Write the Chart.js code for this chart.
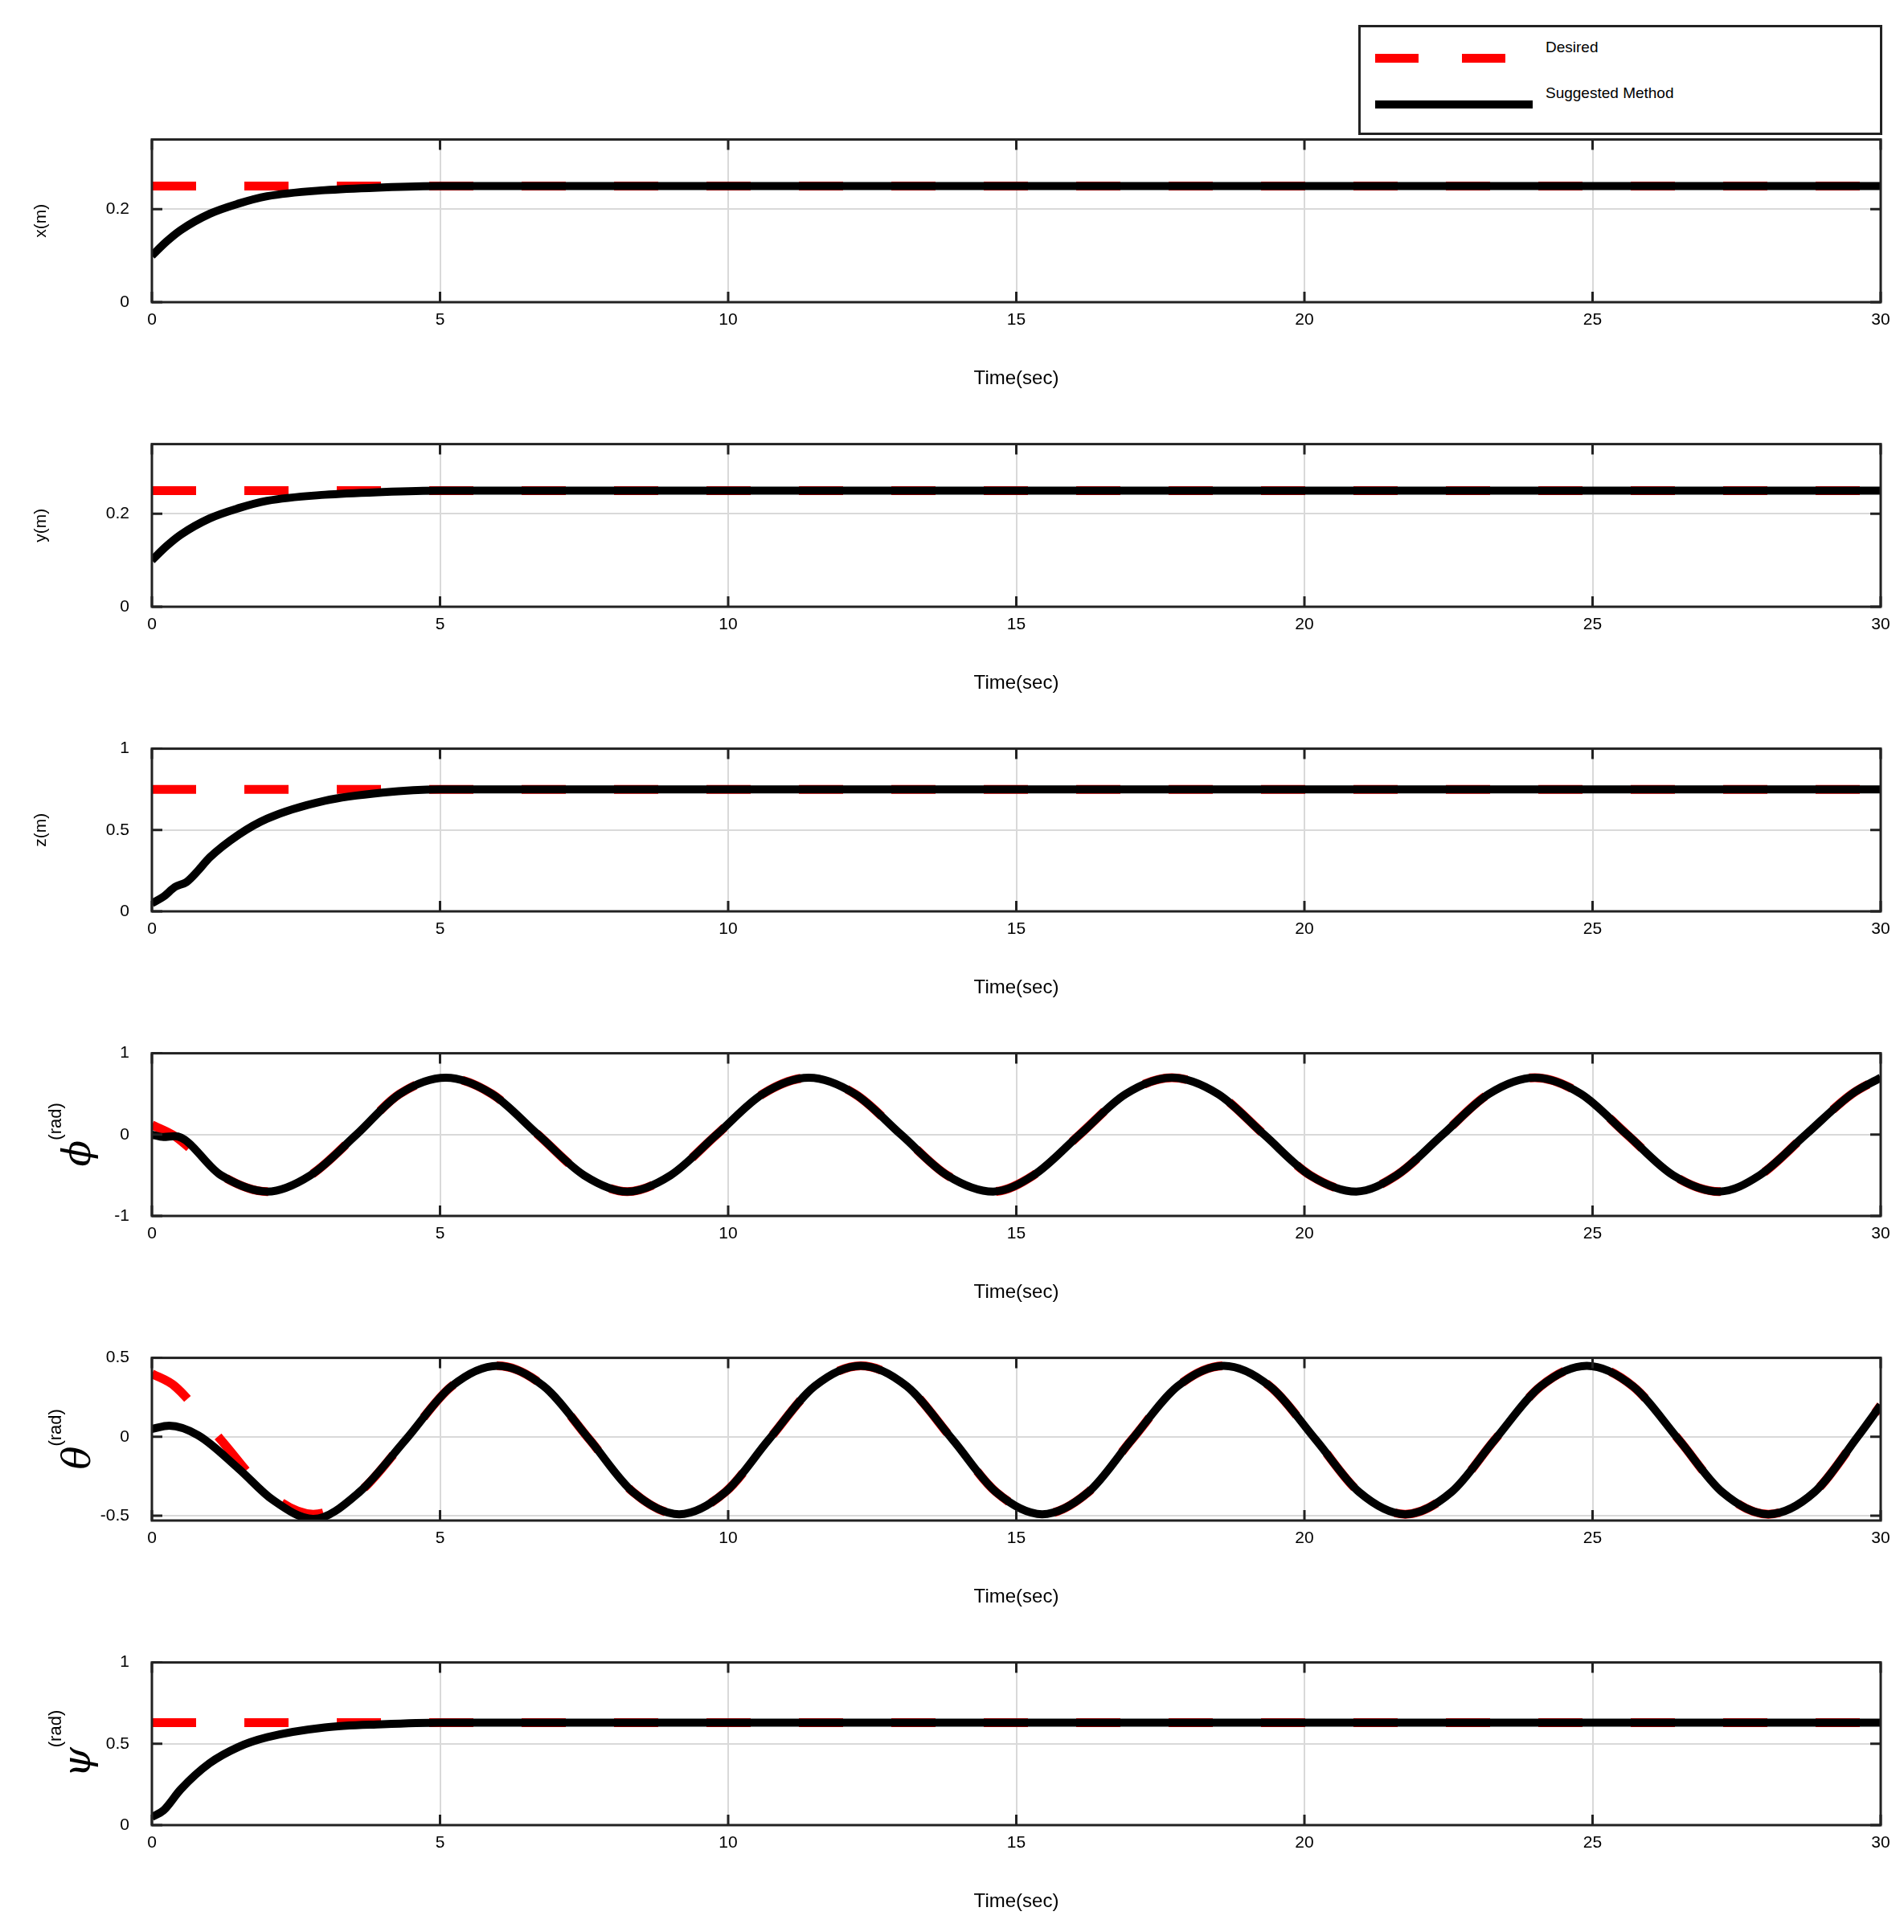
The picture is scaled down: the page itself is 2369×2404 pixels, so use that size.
<!DOCTYPE html>
<html>
<head>
<meta charset="utf-8">
<script src="https://cdn.jsdelivr.net/npm/chart.js@4.4.1/dist/chart.umd.min.js"></script>
<style>
  body { margin: 0; background: #fff; width: 2369px; height: 2404px; position: relative; overflow: hidden; font-family: "Liberation Sans", Arial, sans-serif; }
  .panel { position: absolute; left: 0; width: 2369px; height: 365px; }
  #legend { position: absolute; left: 1690px; top: 31px; width: 646px; height: 131px; border: 3px solid #222; background: #fff; }
  .leg-line { position: absolute; left: 18px; }
  .leg-text { position: absolute; left: 230px; font-size: 19px; color: #000; }
</style>
</head>
<body>
<div id="legend">
  <div class="leg-line" style="top:33px;width:162px;height:11px;background:linear-gradient(to right,#ff0000 0 54px,transparent 54px 108px,#ff0000 108px 162px);"></div>
  <div class="leg-text" style="top:14px;">Desired</div>
  <div class="leg-line" style="top:91px;width:196px;border-top:10px solid #000;"></div>
  <div class="leg-text" style="top:71px;">Suggested Method</div>
</div>
<div id="panels"></div>
<script>
const xTicks = [0, 5, 10, 15, 20, 25, 30];

// x(m)
const xDesT = [0, 30];
const xDesV = [0.25, 0.25];
const xActT = [0, 0.25, 0.5, 1, 1.5, 2, 3, 4, 5, 30];
const xActV = [0.1, 0.13, 0.155, 0.19, 0.212, 0.228, 0.241, 0.247, 0.25, 0.25];

// y(m)
const yDesT = [0, 30];
const yDesV = [0.25, 0.25];
const yActT = [0, 0.25, 0.5, 1, 1.5, 2, 3, 4, 5, 30];
const yActV = [0.1, 0.13, 0.155, 0.19, 0.212, 0.228, 0.241, 0.247, 0.25, 0.25];

// z(m)
const zDesT = [0, 30];
const zDesV = [0.75, 0.75];
const zActT = [0, 0.2, 0.4, 0.6, 0.8, 1, 1.5, 2, 3, 4, 5, 30];
const zActV = [0.05, 0.09, 0.15, 0.18, 0.25, 0.33, 0.47, 0.57, 0.68, 0.73, 0.75, 0.75];

// phi(rad)
const phiT = [0.4, 1.2, 2.0, 2.75, 3.55, 4.3, 5.1, 5.9, 6.7, 7.5, 8.25, 9.0, 9.8, 10.6, 11.4, 12.2, 13.0, 13.8, 14.6, 15.3, 16.1, 16.9, 17.7, 18.5, 19.3, 20.1, 20.9, 21.6, 22.4, 23.2, 24.0, 24.8, 25.6, 26.4, 27.2, 27.9, 28.7, 29.5, 30];
const phiV = [-0.02, -0.5, -0.7, -0.5, 0, 0.5, 0.7, 0.5, 0, -0.5, -0.7, -0.5, 0, 0.5, 0.7, 0.5, 0, -0.5, -0.7, -0.5, 0, 0.5, 0.7, 0.5, 0, -0.5, -0.7, -0.5, 0, 0.5, 0.7, 0.5, 0, -0.5, -0.7, -0.5, 0, 0.5, 0.7];
const phiDesT = [0].concat(phiT);
const phiDesV = [0.12].concat(phiV);
const phiActT = [0, 0.2].concat(phiT);
const phiActV = [0, -0.03].concat(phiV);

// theta(rad)
const thTailT = [3.6, 4.4, 5.2, 6.0, 6.8, 7.6, 8.35, 9.15, 9.95, 10.7, 11.5, 12.3, 13.1, 13.9, 14.65, 15.45, 16.25, 17.0, 17.8, 18.6, 19.4, 20.2, 20.95, 21.75, 22.55, 23.3, 24.1, 24.9, 25.7, 26.5, 27.25, 28.05, 28.85, 29.6, 30];
const thTailV = [-0.35, -0.02, 0.32, 0.45, 0.32, -0.02, -0.35, -0.49, -0.35, -0.02, 0.32, 0.45, 0.32, -0.02, -0.35, -0.49, -0.35, -0.02, 0.32, 0.45, 0.32, -0.02, -0.35, -0.49, -0.35, -0.02, 0.32, 0.45, 0.32, -0.02, -0.35, -0.49, -0.35, 0.0, 0.2];
const thDesT = [0, 0.4, 1.2, 2.0, 2.8].concat(thTailT);
const thDesV = [0.4, 0.32, -0.02, -0.35, -0.49].concat(thTailV);
const thActT = [0, 0.3, 0.8, 1.5, 2.1, 2.8].concat(thTailT);
const thActV = [0.05, 0.07, 0.01, -0.2, -0.4, -0.52].concat(thTailV);

// psi(rad)
const psiDesT = [0, 30];
const psiDesV = [0.63, 0.63];
const psiActT = [0, 0.2, 0.5, 1, 1.5, 2, 3, 4, 5, 30];
const psiActV = [0.05, 0.09, 0.22, 0.38, 0.48, 0.54, 0.6, 0.62, 0.63, 0.63];

const panels = [
  { label: "x(m)", greek: null, min: 0, max: 0.35, yTicks: [0, 0.2], des: [xDesT, xDesV], act: [xActT, xActV] },
  { label: "y(m)", greek: null, min: 0, max: 0.35, yTicks: [0, 0.2], des: [yDesT, yDesV], act: [yActT, yActV] },
  { label: "z(m)", greek: null, min: 0, max: 1, yTicks: [0, 0.5, 1], des: [zDesT, zDesV], act: [zActT, zActV] },
  { label: "(rad)", greek: "\u03D5", min: -1, max: 1, yTicks: [-1, 0, 1], des: [phiDesT, phiDesV], act: [phiActT, phiActV] },
  { label: "(rad)", greek: "\u03B8", min: -0.53, max: 0.5, yTicks: [-0.5, 0, 0.5], des: [thDesT, thDesV], act: [thActT, thActV] },
  { label: "(rad)", greek: "\u03C8", min: 0, max: 1, yTicks: [0, 0.5, 1], des: [psiDesT, psiDesV], act: [psiActT, psiActV] },
];

const toPoints = (t, v) => t.map((x, i) => ({ x, y: v[i] }));

const framePlugin = {
  id: "frame",
  afterDraw(chart, args, opts) {
    const { ctx, chartArea: a, scales } = chart;
    ctx.save();
    ctx.strokeStyle = "#222";
    ctx.lineWidth = 3;
    const len = 13;
    ctx.beginPath();
    xTicks.forEach((t) => {
      const px = scales.x.getPixelForValue(t);
      ctx.moveTo(px, a.top); ctx.lineTo(px, a.top + len);
      ctx.moveTo(px, a.bottom); ctx.lineTo(px, a.bottom - len);
    });
    opts.yTicks.forEach((t) => {
      const py = scales.y.getPixelForValue(t);
      ctx.moveTo(a.left, py); ctx.lineTo(a.left + len, py);
      ctx.moveTo(a.right, py); ctx.lineTo(a.right - len, py);
    });
    ctx.stroke();
    ctx.strokeRect(a.left, a.top, a.right - a.left, a.bottom - a.top);
    // y label
    const cy = (a.top + a.bottom) / 2;
    ctx.fillStyle = "#000";
    ctx.translate(opts.greek ? 112 : 57, cy);
    ctx.rotate(-Math.PI / 2);
    ctx.textBaseline = "alphabetic";
    if (opts.greek) {
      ctx.font = "italic 48px 'DejaVu Serif', serif";
      const gw = ctx.measureText(opts.greek).width;
      ctx.font = "22px 'Liberation Sans', Arial, sans-serif";
      const lw = ctx.measureText(opts.label).width;
      const start = -(gw + lw) / 2;
      ctx.font = "italic 48px 'DejaVu Serif', serif";
      ctx.textAlign = "left";
      ctx.fillText(opts.greek, start, 0);
      ctx.font = "22px 'Liberation Sans', Arial, sans-serif";
      ctx.fillText(opts.label, start + gw, -36);
    } else {
      ctx.textAlign = "center";
      ctx.font = "21px 'Liberation Sans', Arial, sans-serif";
      ctx.fillText(opts.label, 0, 0);
    }
    ctx.restore();
  },
};

const container = document.getElementById("panels");
panels.forEach((p, k) => {
  const div = document.createElement("div");
  div.className = "panel";
  div.style.top = (173 + 379 * k - 40) + "px";
  const canvas = document.createElement("canvas");
  div.appendChild(canvas);
  container.appendChild(div);

  new Chart(canvas, {
    type: "line",
    data: {
      datasets: [
        {
          label: "Suggested Method",
          data: toPoints(p.act[0], p.act[1]),
          borderColor: "#000",
          borderWidth: 10,
          pointRadius: 0,
          tension: 0.4,
          cubicInterpolationMode: "monotone",
        },
        {
          label: "Desired",
          data: toPoints(p.des[0], p.des[1]),
          borderColor: "#ff0000",
          borderWidth: 11,
          borderDash: [55, 60],
          pointRadius: 0,
          tension: 0.4,
          cubicInterpolationMode: "monotone",
        },
      ],
    },
    options: {
      responsive: true,
      maintainAspectRatio: false,
      animation: false,
      devicePixelRatio: 1,
      layout: { padding: { top: 28, right: 29, left: 0, bottom: 0 } },
      plugins: {
        legend: { display: false },
        tooltip: { enabled: false },
        frame: { yTicks: p.yTicks, label: p.label, greek: p.greek },
      },
      scales: {
        x: {
          type: "linear",
          min: 0,
          max: 30,
          afterBuildTicks: (s) => { s.ticks = xTicks.map((v) => ({ value: v })); },
          afterFit: (s) => { s.height = 122; },
          grid: { color: "#d9d9d9", lineWidth: 2, drawTicks: false },
          border: { display: false },
          ticks: { color: "#000", font: { size: 21, family: "'Liberation Sans', Arial" }, padding: 10, maxRotation: 0 },
          title: { display: true, text: "Time(sec)", color: "#000", font: { size: 24, family: "'Liberation Sans', Arial" }, padding: { top: 22, bottom: 12 } },
        },
        y: {
          min: p.min,
          max: p.max,
          afterBuildTicks: (s) => { s.ticks = p.yTicks.map((v) => ({ value: v })); },
          afterFit: (s) => { s.width = 189; },
          grid: { color: "#d9d9d9", lineWidth: 2, drawTicks: false },
          border: { display: false },
          ticks: { color: "#000", font: { size: 21, family: "'Liberation Sans', Arial" }, padding: 28, callback: (v) => String(v) },
        },
      },
    },
    plugins: [framePlugin],
  });
});
</script>
</body>
</html>
